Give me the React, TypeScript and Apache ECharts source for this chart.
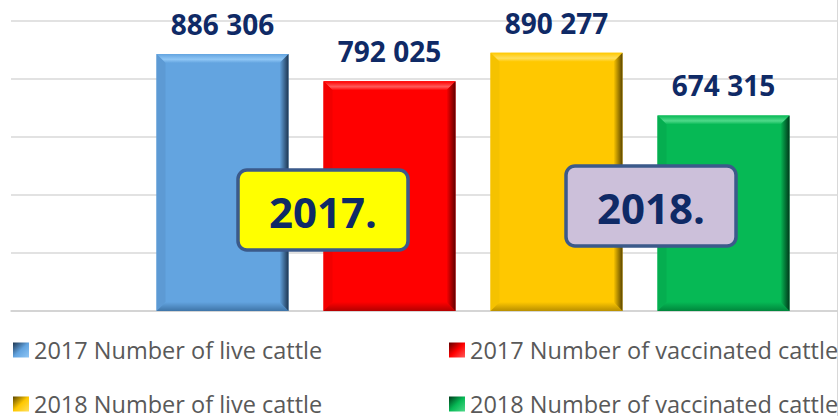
import React, { useEffect, useRef } from "react";
import * as echarts from "echarts";

const categories = ["Cattle"];
const seriesNames = [
  "2017 Number of live cattle",
  "2017 Number of vaccinated cattle",
  "2018 Number of live cattle",
  "2018 Number of vaccinated cattle",
];
const seriesValues = [886306, 792025, 890277, 674315];
const yearLabels = ["2017.", "2018."];

const BASE = ["#63a4e0", "#ff0000", "#ffc800", "#06b955"];
const LIGHT = ["#8fc6f5", "#ff5a5a", "#ffdf5c", "#4fd98a"];
const DARK = ["#1d3550", "#5e0000", "#5a4500", "#00391a"];
const BOTTOM = ["#3f75a8", "#b40000", "#b88f00", "#00863c"];
const LEFTC = ["#5d9ad4", "#f20000", "#f5c200", "#05ae50"];

const BW = 132;
const GAP = 35;
const BEV = 9;

const fmt = (v: number) => String(v).replace(/\B(?=(\d{3})+(?!\d))/g, " ");

export default function App() {
  const ref = useRef<HTMLDivElement>(null);
  useEffect(() => {
    const chart = echarts.init(ref.current!, null, { renderer: "svg" });
    const barSeries = seriesNames.map((name, i) => ({
      name,
      type: "bar",
      data: [seriesValues[i]],
      barWidth: BW,
      barGap: (GAP / BW) * 100 + "%",
      itemStyle: { color: BASE[i] },
      label: {
        show: true,
        position: "top",
        distance: 16,
        formatter: (p: any) => fmt(p.value),
        fontFamily: "Open Sans",
        fontWeight: "bold",
        fontSize: 28,
        color: "#0f2a66",
      },
      z: 2,
    }));
    const bevel = {
      type: "custom",
      silent: true,
      z: 3,
      encode: { x: 0, y: 1 },
      data: seriesValues.map((v, i) => [0, v, i]),
      renderItem: (params: any, api: any) => {
        const v = api.value(1);
        const i = api.value(2);
        const base = api.coord([0, 0]);
        const top = api.coord([0, v]);
        const cx = base[0] + (i - 1.5) * (BW + GAP);
        const x0 = cx - BW / 2;
        const x1 = cx + BW / 2;
        const y0 = top[1];
        const y1 = base[1];
        const b = BEV;
        return {
          type: "group",
          children: [
            {
              type: "polygon",
              shape: { points: [[x0, y0], [x1, y0], [x1 - b, y0 + b], [x0 + b, y0 + b]] },
              style: {
                fill: new echarts.graphic.LinearGradient(0, 0, 0, 1, [
                  { offset: 0, color: BASE[i] },
                  { offset: 0.6, color: LIGHT[i] },
                  { offset: 1, color: BASE[i] },
                ]),
              },
            },
            {
              type: "polygon",
              shape: { points: [[x0, y0], [x0 + b, y0 + b], [x0 + b, y1 - b], [x0, y1]] },
              style: { fill: LEFTC[i] },
            },
            {
              type: "polygon",
              shape: { points: [[x0, y1], [x1, y1], [x1 - b, y1 - b], [x0 + b, y1 - b]] },
              style: {
                fill: new echarts.graphic.LinearGradient(0, 0, 0, 1, [
                  { offset: 0, color: BASE[i] },
                  { offset: 1, color: BOTTOM[i] },
                ]),
              },
            },
            {
              type: "polygon",
              shape: { points: [[x1, y0], [x1, y1], [x1 - b, y1 - b], [x1 - b, y0 + b]] },
              style: {
                fill: new echarts.graphic.LinearGradient(0, 0, 1, 0, [
                  { offset: 0, color: BASE[i] },
                  { offset: 1, color: DARK[i] },
                ]),
              },
            },
          ],
        };
      },
    };
    const legendAt = (idx: number, left: number, top: number) => ({
      orient: "horizontal",
      left,
      top,
      padding: 0,
      itemWidth: 16,
      itemHeight: 15,
      icon: "rect",
      selectedMode: false,
      data: [
        {
          name: seriesNames[idx],
          itemStyle: {
            color: new echarts.graphic.LinearGradient(0, 0, 1, 1, [
              { offset: 0, color: DARK[idx] },
              { offset: 0.5, color: BASE[idx] },
              { offset: 1, color: LIGHT[idx] },
            ]),
          },
        },
      ],
      textStyle: { fontFamily: "Open Sans", fontSize: 23.5, lineHeight: 22, color: "#595959" },
    });
    const boxText = (x: number, y: number, fill: string, text: string) => ({
      type: "group",
      x,
      y,
      z: 100,
      children: [
        {
          type: "rect",
          z: 100,
          shape: { x: 0, y: 0, width: 170, height: 80, r: 9 },
          style: { fill, stroke: "#3b5a8a", lineWidth: 3.5 },
        },
        {
          type: "text",
          z: 101,
          x: 85,
          y: 41,
          style: {
            text,
            fontFamily: "Open Sans",
            fontWeight: "bold",
            fontSize: 42,
            fill: "#0f2a66",
            align: "center",
            verticalAlign: "middle",
          },
        },
      ],
    });
    chart.setOption({
      animation: false,
      grid: { left: 11, right: 5, top: 21, bottom: 105, containLabel: false },
      xAxis: {
        type: "category",
        data: categories,
        axisLabel: { show: false },
        axisTick: { show: false },
        axisLine: { show: true, lineStyle: { color: "#d0d0d0", width: 1.5 } },
      },
      yAxis: {
        type: "value",
        min: 0,
        max: 1000000,
        interval: 200000,
        axisLabel: { show: false },
        axisLine: { show: false },
        axisTick: { show: false },
        splitLine: { lineStyle: { color: "#d9d9d9", width: 1.5 } },
      },
      legend: [
        legendAt(0, 13, 338),
        legendAt(1, 449, 338),
        legendAt(2, 13, 392),
        legendAt(3, 449, 392),
      ],
      series: [...barSeries, bevel],
      graphic: [
        boxText(238, 170, "#ffff00", yearLabels[0]),
        boxText(566, 166, "#ccc0da", yearLabels[1]),
        {
          type: "line",
          shape: { x1: 837.5, y1: 0, x2: 837.5, y2: 416 },
          style: { stroke: "#d8d8d8", lineWidth: 1 },
        },
      ],
    });
    return () => chart.dispose();
  }, []);
  return (
    <div style={{ position: "fixed", left: 0, top: 0, width: 838, height: 416, overflow: "hidden", background: "#fff" }}>
      <div ref={ref} style={{ width: 940, height: 416 }} />
    </div>
  );
}
